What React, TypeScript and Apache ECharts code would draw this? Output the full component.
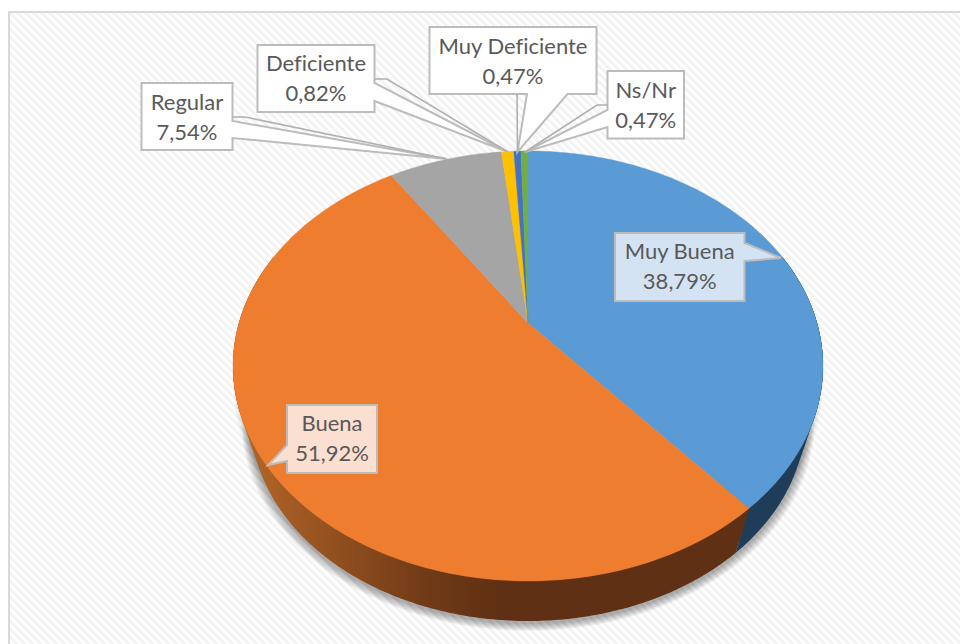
import React, { useEffect, useRef } from "react";
import * as echarts from "echarts";

const categories = ["Muy Buena", "Buena", "Regular", "Deficiente", "Muy Deficiente", "Ns/Nr"];
const shares = [38.79, 51.92, 7.54, 0.82, 0.47, 0.47];
const faceColors = ["#5b9bd5", "#ef7d30", "#a5a5a5", "#ffc000", "#4472c4", "#70ad47"];

// Projection of the tilted disc
const CX = 528, CY = 323, DX = 289, DY = 206.4, PERSP = 0.2;
const BOTTOM_SCALE = 0.94, BOTTOM_DROP = 55.5;
const FONT = '22px Lato, "Open Sans", sans-serif';
const TEXT_COLOR = "#595959";
const BORDER = "#bcbcbc";

type Callout = {
  center: [number, number];
  fill: string;
  lead?: number[][];
  outline: number[][];
};
const callouts: Callout[] = [
  {
    center: [679.7, 265], fill: "#d4e3f3",
    outline: [[615, 233], [744.5, 233], [744.5, 243], [781, 258], [744.5, 261], [744.5, 301], [615, 301]],
  },
  {
    center: [332, 437], fill: "#fbdfd0",
    outline: [[287, 405], [377, 405], [377, 473], [287, 473], [287, 461], [268, 465], [287, 445]],
  },
  {
    center: [187, 116], fill: "#ffffff",
    lead: [[232.5, 117], [245, 117], [447, 159]],
    outline: [[141.5, 83], [232.5, 83], [232.5, 121], [447, 159], [232.5, 138], [232.5, 150], [141.5, 150]],
  },
  {
    center: [316, 77.5], fill: "#ffffff",
    lead: [[374.5, 79], [387, 79], [508, 152]],
    outline: [[257.5, 45], [374.5, 45], [374.5, 83], [508, 152], [374.5, 101], [374.5, 112], [257.5, 112]],
  },
  {
    center: [513, 60], fill: "#ffffff",
    lead: [[517, 94], [517.5, 152]],
    outline: [[429.5, 27], [596.5, 27], [596.5, 94], [567.5, 94], [517.5, 152], [527, 94], [429.5, 94]],
  },
  {
    center: [645.7, 104], fill: "#ffffff",
    lead: [[607.5, 105], [597, 105], [525, 152]],
    outline: [[607.5, 71], [684, 71], [684, 138.5], [607.5, 138.5], [607.5, 127], [525, 152], [607.5, 110]],
  },
];

const total = shares.reduce((a, b) => a + b, 0);
const startAngle = (i: number) => (shares.slice(0, i).reduce((a, b) => a + b, 0) / total) * 360;

function project(deg: number, scale = 1, drop = 0): number[] {
  const t = (deg * Math.PI) / 180;
  const u = Math.sin(t);
  const v = -Math.cos(t);
  const d = 1 - PERSP * v;
  return [CX + (scale * DX * u) / d, CY + drop + (scale * DY * v) / d];
}

function arc(a: number, b: number, scale = 1, drop = 0): number[][] {
  const n = Math.max(2, Math.ceil(Math.abs(b - a) / 0.75));
  const pts: number[][] = [];
  for (let i = 0; i <= n; i++) pts.push(project(a + ((b - a) * i) / n, scale, drop));
  return pts;
}

const orangeSide = {
  type: "linear", x: 262, y: 0, x2: 500, y2: 0, global: true,
  colorStops: [
    { offset: 0, color: "#ad6126" },
    { offset: 0.35, color: "#8e4d1e" },
    { offset: 0.7, color: "#703a17" },
    { offset: 1, color: "#5f3013" },
  ],
};
const sideFills: any[] = ["#1f3d58", orangeSide, "#636363", "#997300", "#29447a", "#43682b"];

// soft drop shadow: nested translucent outlines beneath the side wall
const SHADOW_SPREAD = [9, 8, 7, 6, 5, 4, 3, 2, 1];
function renderShadow() {
  const children: any[] = [];
  for (const e of SHADOW_SPREAD) {
    const k = e / 290;
    children.push({
      type: "polygon",
      shape: { points: [...arc(60, 300, BOTTOM_SCALE + k, BOTTOM_DROP + 2), ...arc(300, 60, 0.85, 0)] },
      style: { fill: "rgba(0,0,0,0.04)" },
    });
    children.push({
      type: "polygon",
      shape: { points: arc(0, 360, 0.975 + k * 0.8, 22) },
      style: { fill: "rgba(0,0,0,0.016)" },
    });
  }
  return { type: "group", children };
}

const SIDE_LEVELS = [0.25, 0.5, 0.75, 1];
function renderSide(params: any) {
  const i = params.dataIndex;
  const a = Math.max(startAngle(i), 70);
  const b = Math.min(startAngle(i + 1), 290);
  if (b <= a) return { type: "group", children: [] };
  return {
    type: "group",
    children: SIDE_LEVELS.map((t) => ({
      type: "polygon",
      shape: { points: [...arc(a, b), ...arc(b, a, 1 + (BOTTOM_SCALE - 1) * t, BOTTOM_DROP * t)] },
      style: { fill: sideFills[i] },
    })),
  };
}

function renderFace(params: any) {
  const i = params.dataIndex;
  const pts = [[CX, CY], ...arc(startAngle(i), startAngle(i + 1))];
  return {
    type: "polygon",
    shape: { points: pts },
    style: { fill: faceColors[i], stroke: faceColors[i], lineWidth: 0.4 },
  };
}

function renderCallout(params: any, api: any) {
  const i = params.dataIndex;
  const c = callouts[i];
  const pct = Number(api.value(0)).toFixed(2).replace(".", ",") + "%";
  const children: any[] = [
    { type: "polygon", shape: { points: c.outline }, style: { fill: c.fill, stroke: BORDER, lineWidth: 2, lineJoin: "miter" } },
  ];
  if (c.lead) {
    children.push({ type: "polyline", shape: { points: c.lead }, style: { fill: "none", stroke: "#b0b0b0", lineWidth: 1.6 } });
  }
  children.push({
    type: "text",
    style: {
      x: c.center[0],
      y: c.center[1],
      text: `${categories[i]}\n${pct}`,
      font: FONT,
      lineHeight: 30,
      fill: TEXT_COLOR,
      align: "center",
      verticalAlign: "middle",
    },
  });
  return { type: "group", children };
}

const STRIPE =
  "url(\"data:image/svg+xml;utf8,<svg xmlns='http://www.w3.org/2000/svg' width='8' height='8'><rect width='8' height='8' fill='white'/><path d='M-2 -2L10 10M-2 6L2 10M6 -2L10 2' stroke='%23f3f3f3' stroke-width='2.8'/></svg>\")";

export default function App() {
  const ref = useRef<HTMLDivElement>(null);
  useEffect(() => {
    const chart = echarts.init(ref.current!, null, { renderer: "svg" });
    const rows = categories.map((name, i) => ({ name, value: [shares[i]] }));
    const base = { type: "custom", coordinateSystem: "none", silent: true, encode: { value: 0 } };
    chart.setOption({
      animation: false,
      backgroundColor: "transparent",
      series: [
        { ...base, id: "shadow", data: [{ name: "shadow", value: [100] }], renderItem: renderShadow, z: 1 },
        { ...base, id: "sides", data: rows, renderItem: renderSide, z: 2 },
        { ...base, id: "faces", data: rows, renderItem: renderFace, z: 3 },
        { ...base, id: "labels", data: rows, renderItem: renderCallout, z: 4 },
      ],
    } as any);
    return () => chart.dispose();
  }, []);
  return (
    <div style={{ position: "fixed", left: 0, top: 0, width: 960, height: 644, background: "#fff", overflow: "hidden" }}>
      <style>{"svg text{font-variant-ligatures:none !important;font-feature-settings:'liga' 0 !important}"}</style>
      <div
        style={{
          position: "absolute", left: 8, top: 11, width: 960, height: 650, boxSizing: "border-box",
          border: "2px solid #d9d9d9", borderRightWidth: 0, borderBottomWidth: 0, backgroundImage: STRIPE,
        }}
      />
      <div ref={ref} style={{ position: "absolute", left: 0, top: 0, width: 960, height: 644 }} />
    </div>
  );
}
